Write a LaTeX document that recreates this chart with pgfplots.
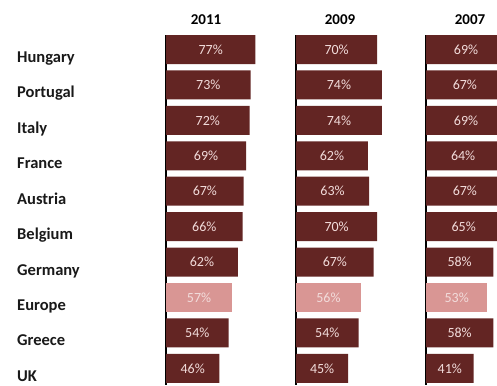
\documentclass[border=0pt]{standalone}
\usepackage{pgfplots}
\usepackage{pgfplotstable}
\pgfplotsset{compat=1.18}
\usepackage{fontspec}
\setmainfont{Carlito}
\definecolor{barred}{HTML}{632523}
\definecolor{eupink}{HTML}{D99694}
\definecolor{lbl}{HTML}{F2DCDB}

\pgfplotstableread{
y v eu
0 77 0
1 73 0
2 72 0
3 69 0
4 67 0
5 66 0
6 62 0
7 57 1
8 54 0
9 46 0
}\tA
\pgfplotstableread{
y v eu
0 70 0
1 74 0
2 74 0
3 62 0
4 63 0
5 70 0
6 67 0
7 56 1
8 54 0
9 45 0
}\tB
\pgfplotstableread{
y v eu
0 69 0
1 67 0
2 69 0
3 64 0
4 67 0
5 65 0
6 58 0
7 53 1
8 58 0
9 41 0
}\tC

\pgfplotsset{
 panel/.style={
  scale only axis, width=116pt, height=350pt,
  xmin=0, xmax=100, ymin=-0.41, ymax=9.47, y dir=reverse,
  axis x line=none, axis y line*=left,
  axis line style={-, line width=2pt, black},
  ytick=\empty, major tick length=0pt,
  anchor=north west,
  /pgf/number format/assume math mode=true,
  unbounded coords=discard,
 },
 darkbars/.style={xbar, bar shift=0pt, bar width=29pt, draw=none, fill=barred,
  restrict expr to domain={\thisrow{eu}}{0:0}},
 pinkbars/.style={xbar, bar shift=0pt, bar width=29pt, draw=none, fill=eupink,
  restrict expr to domain={\thisrow{eu}}{1:1}},
 barlabels/.style={draw=none, mark=none, point meta=explicit,
  nodes near coords={\pgfmathprintnumber{\pgfplotspointmeta}\%},
  nodes near coords style={anchor=center, text=lbl, font=\fontsize{14}{16}\selectfont}},
}

\begin{document}
\begin{tikzpicture}
\path[use as bounding box] (0,0) rectangle (497pt,-385pt);
\clip (0,0) rectangle (497pt,-385pt);

\begin{axis}[panel, at={(166pt,-35pt)},
  ytick={0,...,9},
  yticklabels={Hungary,Portugal,Italy,France,Austria,Belgium,Germany,Europe,Greece,UK},
  yticklabel style={anchor=base west, inner sep=0pt, xshift=-149pt, yshift=-13pt,
    font=\fontsize{16.5}{18}\selectfont\bfseries, text=black!90}]
\addplot[darkbars] table[x=v, y=y] {\tA};
\addplot[pinkbars] table[x=v, y=y] {\tA};
\addplot[barlabels] table[x expr=\thisrow{v}/2, y=y, meta=v] {\tA};
\end{axis}

\begin{axis}[panel, at={(296pt,-35pt)}]
\addplot[darkbars] table[x=v, y=y] {\tB};
\addplot[pinkbars] table[x=v, y=y] {\tB};
\addplot[barlabels] table[x expr=\thisrow{v}/2, y=y, meta=v] {\tB};
\end{axis}

\begin{axis}[panel, at={(426pt,-35pt)}]
\addplot[darkbars] table[x=v, y=y] {\tC};
\addplot[pinkbars] table[x=v, y=y] {\tC};
\addplot[barlabels] table[x expr=\thisrow{v}/2, y=y, meta=v] {\tC};
\end{axis}

\node[anchor=base, font=\fontsize{15}{18}\selectfont\bfseries] at (206pt,-25pt) {2011};
\node[anchor=base, font=\fontsize{15}{18}\selectfont\bfseries] at (340pt,-25pt) {2009};
\node[anchor=base, font=\fontsize{15}{18}\selectfont\bfseries] at (470pt,-25pt) {2007};
\end{tikzpicture}
\end{document}
